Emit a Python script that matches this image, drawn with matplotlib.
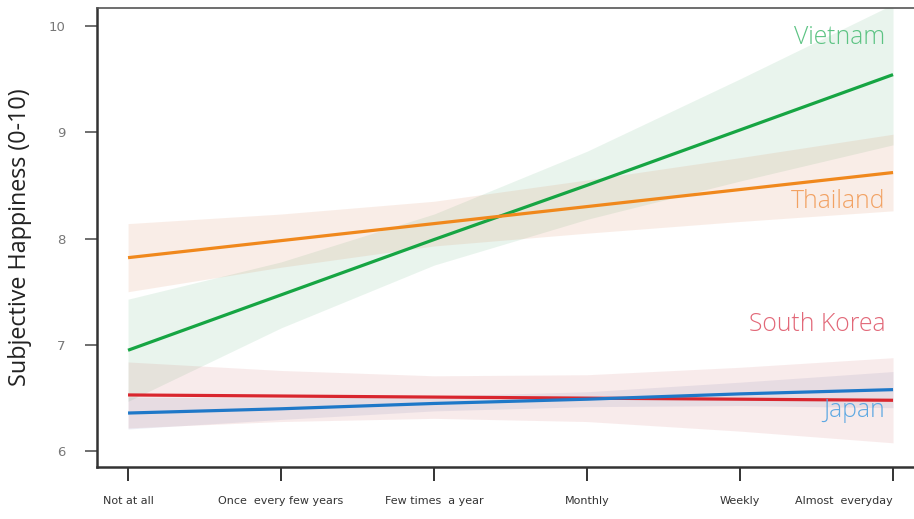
import matplotlib.pyplot as plt
import numpy as np

# frequency of religious practice (x) vs. subjective happiness (y)
categories = ["Not at all", "Once  every few years", "Few times  a year",
              "Monthly", "Weekly", "Almost  everyday"]

vietnam = [6.95, 7.47, 7.99, 8.50, 9.02, 9.54]
vietnam_ci = [0.48, 0.31, 0.24, 0.32, 0.48, 0.66]

thailand = [7.82, 7.98, 8.14, 8.30, 8.46, 8.62]
thailand_ci = [0.32, 0.25, 0.21, 0.25, 0.30, 0.36]

korea = [6.53, 6.52, 6.51, 6.50, 6.49, 6.48]
korea_ci = [0.31, 0.24, 0.20, 0.22, 0.30, 0.40]

japan = [6.36, 6.40, 6.45, 6.49, 6.54, 6.58]
japan_ci = [0.15, 0.10, 0.07, 0.07, 0.11, 0.17]

series = [
    ("Vietnam", vietnam, vietnam_ci, "#16a543", "#2a9a52", 0.10, "#5cc383", 9.89),
    ("Thailand", thailand, thailand_ci, "#f0881c", "#d5713f", 0.12, "#f2a263", 8.35),
    ("South Korea", korea, korea_ci, "#d9262e", "#cd6161", 0.12, "#e26878", 7.19),
    ("Japan", japan, japan_ci, "#1f78c8", "#5a5a9a", 0.10, "#5ea8e2", 6.385),
]

fig = plt.figure(figsize=(9.14, 5.19), dpi=100)
ax = fig.add_axes([0.1061, 0.1002, 0.8939, 0.8844])

x = np.arange(len(categories))
for name, vals, ci, line_c, fill_c, alpha, text_c, label_y in series:
    vals = np.array(vals)
    ci = np.array(ci)
    ax.fill_between(x, vals - ci, vals + ci, color=fill_c, alpha=alpha,
                    linewidth=0, zorder=1)

for name, vals, ci, line_c, fill_c, alpha, text_c, label_y in series:
    ax.plot(x, vals, color=line_c, linewidth=2.3, zorder=3,
            solid_capstyle="butt")
    ax.text(4.95, label_y, name, color=text_c, fontsize=17.8,
            family="Open Sans", fontweight="light", ha="right",
            va="center", zorder=4)

ax.set_xlim(-0.203, 5.137)
ax.set_ylim(5.853, 10.166)
ax.set_xticks(x)
ax.set_xticklabels(categories, family="DejaVu Sans", fontsize=8,
                   color="#333333")
# last label sits flush against the right edge
ax.get_xticklabels()[-1].set_horizontalalignment("right")
ax.set_yticks([6, 7, 8, 9, 10])
ax.set_yticklabels(["6", "7", "8", "9", "10"], family="DejaVu Sans",
                   fontsize=9.5, color="#777777")

ax.tick_params(axis="x", length=10, width=1.4, color="#333333", pad=11)
ax.tick_params(axis="y", length=8.5, width=1.2, color="#555555", pad=14)

for side in ["left", "bottom"]:
    ax.spines[side].set_linewidth(1.8)
    ax.spines[side].set_color("#333333")
ax.spines["top"].set_linewidth(1.2)
ax.spines["top"].set_color("#555555")
ax.spines["right"].set_visible(False)

ax.set_ylabel("Subjective Happiness (0-10)", family="Open Sans",
              fontsize=16.8, color="#222222")
ax.yaxis.set_label_coords(-0.079, 0.5)

fig.savefig("out.png", dpi=100)
